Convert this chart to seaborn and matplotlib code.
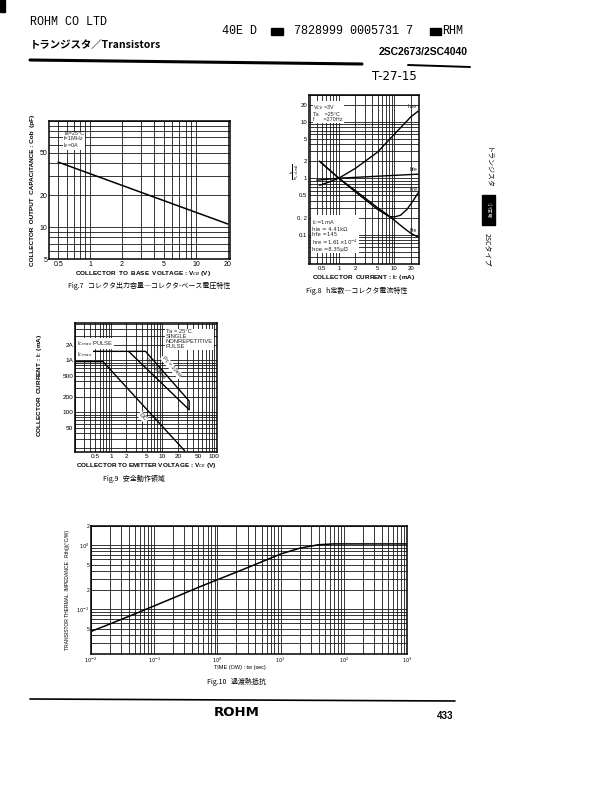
import numpy as np
import matplotlib
matplotlib.use("Agg")
import matplotlib.pyplot as plt
import matplotlib.ticker as mticker
from matplotlib.lines import Line2D
from matplotlib.patches import Rectangle
import seaborn as sns

W, H = 614, 792

# Fig.7  Cob vs VCB
cob_vcb = [0.5, 20]
cob_pf = [41, 10.7]

# Fig.8  h parameters vs Ic, normalised at Ic = 1 mA
hoe_ic = [0.45, 0.7, 1, 2, 5, 10, 20, 27]
hoe_val = [0.75, 0.87, 1.0, 1.5, 2.9, 6.0, 12.3, 15.5]
hfe_ic = [0.4, 1, 27]
hfe_val = [0.92, 1.0, 1.18]
hie_ic = [0.45, 1, 2, 5, 8, 10, 15, 20, 27]
hie_val = [2.0, 1.0, 0.6, 0.3, 0.215, 0.18, 0.13, 0.105, 0.09]
hre_ic = [0.45, 1, 2, 5, 8, 10, 13, 17, 22, 27]
hre_val = [2.0, 1.0, 0.57, 0.28, 0.21, 0.205, 0.22, 0.28, 0.4, 0.55]

# Fig.9  safe operating area
soa_10ms_v = [0.2, 4.7, 33, 33]
soa_10ms_i = [1500, 1500, 165, 112]
soa_100ms_v = [2.2, 33]
soa_100ms_i = [1500, 112]
soa_dc_v = [0.2, 0.7, 27]
soa_dc_i = [950, 950, 18]

# Fig.10  transient thermal impedance
rth_t = [0.01, 0.02, 0.05, 0.1, 0.2, 0.5, 1, 2, 5, 10, 20, 40, 70, 100, 1000]
rth_val = [0.045, 0.059, 0.085, 0.113, 0.15, 0.22, 0.29, 0.38, 0.55, 0.73, 0.9, 1.02, 1.05, 1.05, 1.05]

sns.set_theme(style="white")
plt.rcParams["font.family"] = ["Liberation Sans", "DejaVu Sans", "Noto Sans CJK JP"]
plt.rcParams["mathtext.fontset"] = "dejavusans"
JP = ["Noto Sans CJK JP", "DejaVu Sans"]
MONO = ["Liberation Mono", "DejaVu Sans Mono"]

fig = plt.figure(figsize=(W / 100, H / 100), dpi=100)
fig.patch.set_facecolor("white")


def ptext(x, y, s, **kw):
    kw.setdefault("ha", "left")
    kw.setdefault("va", "center")
    kw.setdefault("color", "black")
    return fig.text(x / W, 1 - y / H, s, **kw)


def pline(xs, ys, **kw):
    fig.add_artist(Line2D([x / W for x in xs], [1 - y / H for y in ys],
                          color="black", **kw))


def log_axes(box):
    x0, y0, x1, y1 = box
    ax = fig.add_axes([x0 / W, 1 - y1 / H, (x1 - x0) / W, (y1 - y0) / H])
    ax.set_xscale("log")
    ax.set_yscale("log")
    return ax


def finish(ax, xlim, ylim, xt, xl, yt, yl, fs=5):
    ax.set_xlim(xlim)
    ax.set_ylim(ylim)
    for axis, t, l in ((ax.xaxis, xt, xl), (ax.yaxis, yt, yl)):
        axis.set_major_locator(mticker.FixedLocator(t))
        axis.set_major_formatter(mticker.FixedFormatter(l))
        axis.set_minor_locator(mticker.LogLocator(base=10, subs=np.arange(1, 10), numticks=60))
        axis.set_minor_formatter(mticker.NullFormatter())
    ax.grid(True, which="both", color="#151515", lw=0.6)
    ax.tick_params(which="both", length=0, labelsize=fs, pad=1.2, colors="black")
    for s in ax.spines.values():
        s.set_color("black")
        s.set_linewidth(1.1)
    ax.set_xlabel("")
    ax.set_ylabel("")


def curve(ax, x, y, lw=1.1):
    sns.lineplot(x=x, y=y, ax=ax, color="black", lw=lw, estimator=None, sort=False)


box_kw = dict(boxstyle="square,pad=0.15", fc="white", ec="none")

# ---------- header ----------
fig.add_artist(Rectangle((0, 1 - 12 / H), 5 / W, 12 / H, transform=fig.transFigure, color="black"))
ptext(30, 22, "ROHM CO LTD", fontsize=8.5, family=MONO)
ptext(222, 31, "40E D", fontsize=8.5, family=MONO)
fig.add_artist(Rectangle((271 / W, 1 - 35 / H), 12 / W, 7 / H, transform=fig.transFigure, color="black"))
ptext(294, 31, "7828999 0005731 7", fontsize=8.5, family=MONO)
fig.add_artist(Rectangle((430 / W, 1 - 35 / H), 11 / W, 7 / H, transform=fig.transFigure, color="black"))
ptext(442, 31, "RHM", fontsize=8.5, family=MONO)
ptext(30, 45, "トランジスタ／Transistors", fontsize=7.5, family=JP, weight="bold")
ptext(468, 52, "2SC2673/2SC4040", fontsize=7.5, weight="bold", ha="right")
pline([30, 362], [60, 64], lw=2.2)
pline([408, 470], [65, 67], lw=1.4)
ptext(372, 76, "T-27-15", fontsize=8.5, family=["DejaVu Sans"])

# right margin
ptext(487, 168, "トランジスタ", fontsize=5, family=JP, rotation=-90, ha="center")
fig.add_artist(Rectangle((482 / W, 1 - 225 / H), 13 / W, 30 / H, transform=fig.transFigure, color="black"))
ptext(488.5, 210, "小信号", fontsize=4, family=JP, rotation=-90, ha="center", color="#bbbbbb")
ptext(487, 250, "2SCタイプ", fontsize=5, family=JP, rotation=-90, ha="center")

# ---------- Fig.7 ----------
ax7 = log_axes((49, 121, 230, 259))
curve(ax7, cob_vcb, cob_pf)
finish(ax7, (0.41, 21), (5, 100), [0.5, 1, 2, 5, 10, 20], ["0.5", "1", "2", "5", "10", "20"],
       [5, 10, 20, 50], ["5", "10", "20", "50"])
ax7.text(0.08, 0.93, "Ta=25°C\nf=1MHz\nI$_E$=0A", transform=ax7.transAxes, fontsize=4,
         va="top", ha="left", linespacing=1.0, bbox=box_kw)
ptext(33, 190, "COLLECTOR  OUTPUT  CAPACITANCE : Cob  (pF)", fontsize=4.6, rotation=90, ha="center", weight="bold")
ptext(143, 274, "COLLECTOR  TO  BASE  VOLTAGE : V$_{CB}$ (V)", fontsize=4.6, ha="center", weight="bold")
ptext(68, 286, "Fig.7   コレクタ出力容量―コレクタ-ベース電圧特性", fontsize=5, family=JP)

# ---------- Fig.8 ----------
ax8 = log_axes((309, 95, 419, 264))
for xs, ys in ((hoe_ic, hoe_val), (hfe_ic, hfe_val), (hie_ic, hie_val), (hre_ic, hre_val)):
    curve(ax8, xs, ys, lw=1.0)
finish(ax8, (0.29, 28), (0.03, 30), [0.5, 1, 2, 5, 10, 20], ["0.5", "1", "2", "5", "10", "20"],
       [0.1, 0.2, 0.5, 1, 2, 5, 10, 20], ["0.1", "0. 2", "0.5", "1", "2", "5", "10", "20"], fs=4.3)
ax8.text(0.04, 0.95, "V$_{CE}$ =3V\nTa    =25°C\nf      =270Hz", transform=ax8.transAxes, fontsize=3.9,
         va="top", ha="left", linespacing=1.0, bbox=box_kw)
ax8.text(0.03, 0.17, "I$_C$=1mA\nhie = 4.41kΩ\nhfe =145\nhre =1.61×10$^{-4}$\nhoe =8.35μ℧",
         transform=ax8.transAxes, fontsize=3.9, va="center", ha="left", linespacing=1.05, bbox=box_kw,
         family=["DejaVu Sans"])
for lab, yv in (("hoe", 19), ("hfe", 1.45), ("hre", 0.62), ("hie", 0.12)):
    ax8.text(26, yv, lab, fontsize=4, ha="right", va="center")
ptext(295, 172, r"$\frac{h}{h_{I_C=1mA}}$", fontsize=4, rotation=90, ha="center")
ptext(364, 278, "COLLECTOR  CURRENT : I$_C$ (mA)", fontsize=4.6, ha="center", weight="bold")
ptext(306, 291, "Fig.8   h定数―コレクタ電流特性", fontsize=5, family=JP)

# ---------- Fig.9 ----------
ax9 = log_axes((75, 323, 217, 452))
for xs, ys in ((soa_10ms_v, soa_10ms_i), (soa_100ms_v, soa_100ms_i), (soa_dc_v, soa_dc_i)):
    curve(ax9, xs, ys, lw=1.0)
finish(ax9, (0.2, 115), (17, 5300), [0.5, 1, 2, 5, 10, 20, 50, 100],
       ["0.5", "1", "2", "5", "10", "20", "50", "100"],
       [50, 100, 200, 500, 1000, 2000], ["50", "100", "200", "500", "1A", "2A"], fs=4.6)
ax9.text(0.64, 0.95, "Ta = 25°C\nSINGLE\nNONREPETITIVE\nPULSE", transform=ax9.transAxes, fontsize=4.2,
         va="top", ha="left", linespacing=1.0, bbox=box_kw)
ax9.text(0.215, 1750, "I$_{Cmax}$ PULSE", fontsize=4.2, ha="left", va="bottom", bbox=box_kw)
ax9.text(0.215, 1080, "I$_{Cmax}$", fontsize=4.2, ha="left", va="bottom", bbox=box_kw)
ax9.text(4.2, 80, "DC", fontsize=4.5, rotation=-45, ha="center", va="center", bbox=box_kw)
ax9.text(15, 760, "Pc = 10ms", fontsize=3.9, rotation=-48, ha="center", va="center", bbox=box_kw)
ax9.text(7.2, 690, "Pc = 100ms", fontsize=3.6, rotation=-46, ha="center", va="center")
ptext(40, 385, "COLLECTOR  CURRENT : I$_C$ (mA)", fontsize=4.6, rotation=90, ha="center", weight="bold")
ptext(146, 466, "COLLECTOR TO EMITTER VOLTAGE : V$_{CE}$ (V)", fontsize=4.6, ha="center", weight="bold")
ptext(103, 479, "Fig.9   安全動作領域", fontsize=5, family=JP)

# ---------- Fig.10 ----------
ax10 = log_axes((91, 526, 407, 654))
curve(ax10, rth_t, rth_val)
finish(ax10, (0.01, 1000), (0.02, 2), [1e-2, 1e-1, 1, 10, 100, 1000],
       ["$10^{-2}$", "$10^{-1}$", "$10^{0}$", "$10^{1}$", "$10^{2}$", "$10^{3}$"],
       [0.05, 0.1, 0.2, 0.5, 1, 2], ["5", "$10^{-1}$", "2", "5", "$10^{0}$", "2"], fs=3.6)
ptext(67, 590, "TRANSISTOR THERMAL  IMPEDANCE : Rth(j)(°C/W)", fontsize=3.6, rotation=90, ha="center")
ptext(240, 668, "TIME (OW) : tw (sec)", fontsize=4, ha="center")
ptext(236, 682, "Fig.10   過渡熱抵抗", fontsize=5, family=JP, ha="center")

# ---------- footer ----------
pline([30, 455], [699, 701], lw=1.2)
ptext(237, 713, "ROHM", fontsize=9.5, weight="bold", ha="center", family=["DejaVu Sans"])
ptext(445, 716, "433", fontsize=7, weight="bold", ha="center")

fig.savefig("out.png", dpi=100, facecolor="white")
